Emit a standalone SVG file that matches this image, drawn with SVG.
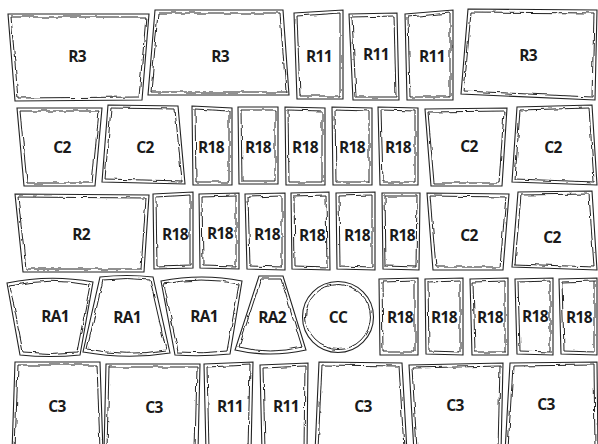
<svg xmlns="http://www.w3.org/2000/svg" width="598" height="444" viewBox="0 0 598 444">
<style>
.o{fill:#fff;stroke:#222;stroke-width:1.1}
.i{fill:none;stroke:#222;stroke-width:1;filter:url(#w)}
.t{font-family:"Open Sans","Liberation Sans",sans-serif;font-weight:700;font-size:15.5px;fill:#1a1a1a;text-anchor:middle;letter-spacing:-0.7px}
</style>
<defs>
<filter id="w" x="-5%" y="-5%" width="110%" height="110%">
<feTurbulence type="fractalNoise" baseFrequency="0.1" numOctaves="2" seed="3"/>
<feDisplacementMap in="SourceGraphic" scale="4" xChannelSelector="R" yChannelSelector="G"/>
</filter>
</defs>
<rect width="598" height="444" fill="#fff"/>
<g id="stones">
<!-- Row 1 -->
<g id="r1-R3a"><polygon class="o" points="8,14 149,14 142,100 15,101"/><polygon class="i" points="11,17 146,17 139,97 18,98"/><text class="t" x="77" y="62">R3</text></g>
<g id="r1-R3b"><polygon class="o" points="155,10 283,10 289,95 148,95"/><polygon class="i" points="158,13 280,13 286,92 151,92"/><text class="t" x="220" y="62">R3</text></g>
<g id="r1-R11a"><polygon class="o" points="294,13 343,10 343,99 297,99"/><polygon class="i" points="297,16 340,13 340,96 300,96"/><text class="t" x="319" y="62">R11</text></g>
<g id="r1-R11b"><polygon class="o" points="349,14 397,13 399,100 353,100"/><polygon class="i" points="352,17 394,16 396,97 356,97"/><text class="t" x="376" y="60">R11</text></g>
<g id="r1-R11c"><polygon class="o" points="405,14 453,10 453,100 407,100"/><polygon class="i" points="408,17 450,13 450,97 410,97"/><text class="t" x="432" y="62">R11</text></g>
<g id="r1-R3c"><polygon class="o" points="468,9 597,10 595,100 461,94"/><polygon class="i" points="471,12 594,13 592,97 464,91"/><text class="t" x="528" y="61">R3</text></g>
<!-- Row 2 -->
<g id="r2-C2a"><polygon class="o" points="17,108 102,108 95,186 24,186"/><polygon class="i" points="20,111 99,111 92,183 27,183"/><text class="t" x="62" y="153">C2</text></g>
<g id="r2-C2b"><polygon class="o" points="108,105 178,106 185,184 102,182"/><polygon class="i" points="111,108 175,109 182,181 105,179"/><text class="t" x="145" y="153">C2</text></g>
<g id="r2-R18a"><polygon class="o" points="192,106 232,108 232,185 193,185"/><polygon class="i" points="195,109 229,111 229,182 196,182"/><text class="t" x="211" y="153">R18</text></g>
<g id="r2-R18b"><polygon class="o" points="238,107 278,107 278,184 239,184"/><polygon class="i" points="241,110 275,110 275,181 242,181"/><text class="t" x="258" y="153">R18</text></g>
<g id="r2-R18c"><polygon class="o" points="285,107 325,108 325,185 286,185"/><polygon class="i" points="288,110 322,111 322,182 289,182"/><text class="t" x="305" y="153">R18</text></g>
<g id="r2-R18d"><polygon class="o" points="332,107 372,108 372,185 333,185"/><polygon class="i" points="335,110 369,111 369,182 336,182"/><text class="t" x="352" y="153">R18</text></g>
<g id="r2-R18e"><polygon class="o" points="378,107 418,108 418,185 380,185"/><polygon class="i" points="381,110 415,111 415,182 383,182"/><text class="t" x="398" y="153">R18</text></g>
<g id="r2-C2c"><polygon class="o" points="425,109 507,108 502,186 431,186"/><polygon class="i" points="428,112 504,111 499,183 434,183"/><text class="t" x="469" y="152">C2</text></g>
<g id="r2-C2d"><polygon class="o" points="517,107 592,105 597,185 512,182"/><polygon class="i" points="520,110 589,108 594,182 515,179"/><text class="t" x="553" y="153">C2</text></g>
<!-- Row 3 -->
<g id="r3-R2"><polygon class="o" points="15,194 149,195 144,272 23,272"/><polygon class="i" points="18,197 146,198 141,269 26,269"/><text class="t" x="81" y="240">R2</text></g>
<g id="r3-R18a"><polygon class="o" points="153,194 193,192 193,268 154,269"/><polygon class="i" points="156,197 190,195 190,265 157,266"/><text class="t" x="175" y="240">R18</text></g>
<g id="r3-R18b"><polygon class="o" points="199,194 239,193 239,269 200,268"/><polygon class="i" points="202,197 236,196 236,266 203,265"/><text class="t" x="220" y="239">R18</text></g>
<g id="r3-R18c"><polygon class="o" points="245,194 285,193 285,270 247,269"/><polygon class="i" points="248,197 282,196 282,267 250,266"/><text class="t" x="267" y="240">R18</text></g>
<g id="r3-R18d"><polygon class="o" points="291,193 329,192 330,270 292,269"/><polygon class="i" points="294,196 326,195 327,267 295,266"/><text class="t" x="312" y="241">R18</text></g>
<g id="r3-R18e"><polygon class="o" points="336,193 375,192 375,270 337,269"/><polygon class="i" points="339,196 372,195 372,267 340,266"/><text class="t" x="357" y="241">R18</text></g>
<g id="r3-R18f"><polygon class="o" points="382,193 420,193 419,270 383,269"/><polygon class="i" points="385,196 417,196 416,267 386,266"/><text class="t" x="402" y="241">R18</text></g>
<g id="r3-C2a"><polygon class="o" points="427,193 509,194 503,270 433,270"/><polygon class="i" points="430,196 506,197 500,267 436,267"/><text class="t" x="469" y="241">C2</text></g>
<g id="r3-C2b"><polygon class="o" points="518,192 592,191 597,270 512,267"/><polygon class="i" points="521,195 589,194 594,267 515,264"/><text class="t" x="552" y="243">C2</text></g>
<!-- Row 4 -->
<g id="r4-RA1a"><path class="o" d="M7,283 Q50,274 93,282 L80,355 Q50,358 20,355 Z"/><path class="i" d="M10,286 Q50,277 90,285 L77,352 Q50,355 23,352 Z"/><text class="t" x="55" y="322">RA1</text></g>
<g id="r4-RA1b"><path class="o" d="M100,277 Q127,274 153,277 L170,353 Q127,360 83,352 Z"/><path class="i" d="M103,280 Q127,277 150,280 L166,350 Q127,357 87,349 Z"/><text class="t" x="127" y="323">RA1</text></g>
<g id="r4-RA1c"><path class="o" d="M161,281 Q202,273 242,281 L230,354 Q202,357 175,355 Z"/><path class="i" d="M164,284 Q202,276 239,284 L227,351 Q202,354 178,352 Z"/><text class="t" x="204" y="322">RA1</text></g>
<g id="r4-RA2"><path class="o" d="M259,276 L283,276 L306,350 Q270,358 235,350 Z"/><path class="i" d="M261,279 L281,279 L302,347 Q270,355 239,347 Z"/><text class="t" x="272" y="323">RA2</text></g>
<g id="r4-CC"><circle class="o" cx="338" cy="317" r="35.5"/><circle class="i" cx="338" cy="317" r="32.5"/><text class="t" x="338" y="323">CC</text></g>
<g id="r4-R18a"><polygon class="o" points="379,279 418,278 418,355 380,355"/><polygon class="i" points="382,282 415,281 415,352 383,352"/><text class="t" x="400" y="323">R18</text></g>
<g id="r4-R18b"><polygon class="o" points="425,279 463,278 463,355 426,354"/><polygon class="i" points="428,282 460,281 460,352 429,351"/><text class="t" x="444" y="323">R18</text></g>
<g id="r4-R18c"><polygon class="o" points="470,279 508,278 508,355 472,355"/><polygon class="i" points="473,282 505,281 505,352 475,352"/><text class="t" x="490" y="323">R18</text></g>
<g id="r4-R18d"><polygon class="o" points="515,279 553,278 553,355 517,354"/><polygon class="i" points="518,282 550,281 550,352 520,351"/><text class="t" x="535" y="322">R18</text></g>
<g id="r4-R18e"><polygon class="o" points="559,279 597,278 597,355 561,354"/><polygon class="i" points="562,282 594,281 594,352 564,351"/><text class="t" x="579" y="323">R18</text></g>
<!-- Row 5 -->
<g id="r5-C3a"><polygon class="o" points="15,362 100,362 103,452 12,452"/><polygon class="i" points="18,365 97,365 100,449 15,449"/><text class="t" x="57" y="412">C3</text></g>
<g id="r5-C3b"><polygon class="o" points="106,364 200,364 198,452 104,452"/><polygon class="i" points="109,367 197,367 195,449 107,449"/><text class="t" x="154" y="413">C3</text></g>
<g id="r5-R11a"><polygon class="o" points="204,364 253,362 251,452 206,452"/><polygon class="i" points="207,367 250,365 248,449 209,449"/><text class="t" x="230" y="412">R11</text></g>
<g id="r5-R11b"><polygon class="o" points="260,365 308,363 307,452 262,452"/><polygon class="i" points="263,368 305,366 304,449 265,449"/><text class="t" x="286" y="412">R11</text></g>
<g id="r5-C3c"><polygon class="o" points="319,362 402,363 407,452 315,452"/><polygon class="i" points="322,365 399,366 404,449 318,449"/><text class="t" x="363" y="412">C3</text></g>
<g id="r5-C3d"><polygon class="o" points="409,365 503,363 501,452 414,452"/><polygon class="i" points="412,368 500,366 498,449 417,449"/><text class="t" x="455" y="411">C3</text></g>
<g id="r5-C3e"><polygon class="o" points="510,363 597,362 598,452 505,452"/><polygon class="i" points="513,366 594,365 595,449 508,449"/><text class="t" x="546" y="410">C3</text></g>
</g>
<g id="connectors"/>
</svg>
